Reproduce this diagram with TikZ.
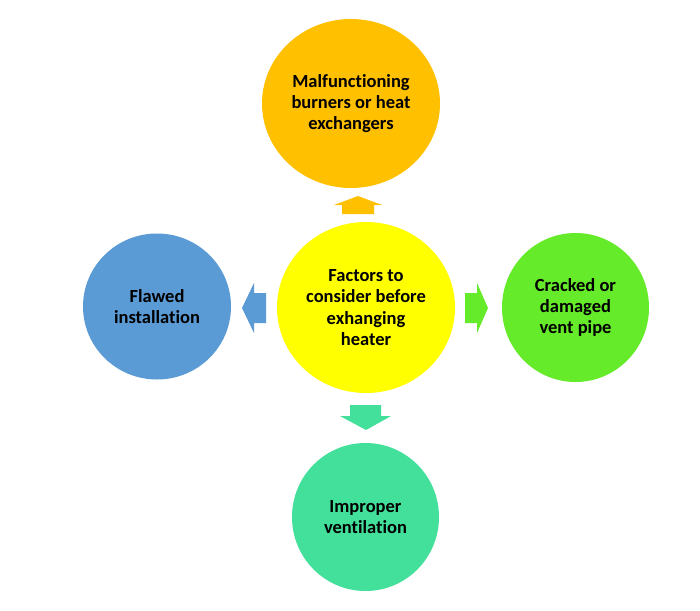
\documentclass[tikz,border=0pt]{standalone}
\usepackage{fontspec}
\setmainfont{Carlito}[Ligatures={NoCommon}]
\usetikzlibrary{shapes.geometric}
\definecolor{cOrange}{HTML}{FFC000}
\definecolor{cYellow}{HTML}{FFFF00}
\definecolor{cBlue}{HTML}{5B9BD5}
\definecolor{cGreen}{HTML}{66EB2A}
\definecolor{cTeal}{HTML}{42E09A}
\tikzset{
  bubble/.style={ellipse, inner sep=0pt, align=center, text=black,
    font=\fontsize{18.5}{21.2}\selectfont\bfseries},
}
\begin{document}
\begin{tikzpicture}[x=1pt,y=-1pt]
\useasboundingbox (0,0) rectangle (700,610);
\fill[white] (0,0) rectangle (700,610);
\node[bubble, fill=cOrange, minimum width=178pt, minimum height=169pt] (top) at (351,103.5) {Malfunctioning\\burners or heat\\exchangers};
\node[bubble, fill=cYellow, minimum width=178pt, minimum height=171pt] (mid) at (366,307.5) {Factors to\\consider before\\exhanging\\heater};
\node[bubble, fill=cBlue, minimum width=148pt, minimum height=146pt] (left) at (157,306.5) {Flawed\\installation};
\node[bubble, fill=cGreen, minimum width=147pt, minimum height=149pt] (right) at (575.5,307.5) {Cracked or\\damaged\\vent pipe};
\node[bubble, fill=cTeal, minimum width=147pt, minimum height=148pt] (bot) at (365.5,517) {Improper\\ventilation};
% block arrows
\fill[cOrange] (342,214) -- (342,205) -- (334,205) -- (358,196) -- (382,205) -- (374,205) -- (374,214) -- cycle;
\fill[cBlue] (266,293) -- (254,293) -- (254,283) -- (242,308) -- (254,333) -- (254,323) -- (266,323) -- cycle;
\fill[cGreen] (465,293) -- (477,293) -- (477,283) -- (488,308) -- (477,333) -- (477,323) -- (465,323) -- cycle;
\fill[cTeal] (350,405) -- (381,405) -- (381,416) -- (391,416) -- (366,430) -- (340,416) -- (350,416) -- cycle;
\end{tikzpicture}
\end{document}
